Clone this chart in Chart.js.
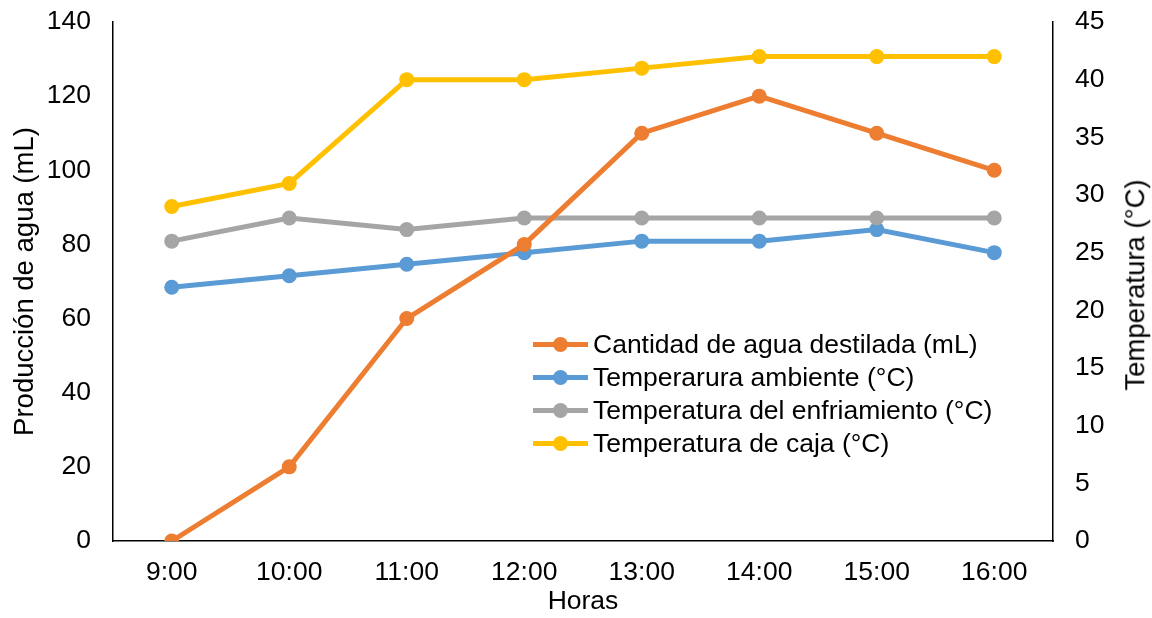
<!DOCTYPE html>
<html>
<head>
<meta charset="utf-8">
<script src="https://cdn.jsdelivr.net/npm/chart.js@4"></script>
<style>
  body { margin: 0; background: #fff; }
  #wrap { position: relative; width: 1152px; height: 618px; }
  #legend {
    position: absolute; left: 533px; top: 328px;
    font-family: "Liberation Sans", Arial, sans-serif; font-size: 26.5px; color: #000;
  }
  .item { height: 33px; line-height: 33px; display: flex; align-items: center; white-space: nowrap; }
  .mark { position: relative; width: 55px; height: 15px; margin-right: 5px; }
  .mark .ln { position: absolute; left: 0; right: 0; top: 5px; height: 5px; }
  .mark .dot { position: absolute; left: 20px; top: 0; width: 15px; height: 15px; border-radius: 50%; }
  #rtitle {
    position: absolute; left: 1134.5px; top: 285px;
    font-family: "Liberation Sans", Arial, sans-serif; font-size: 27.5px; line-height: 1; color: #000;
    white-space: nowrap; transform: translate(-50%, -50%) rotate(-90deg);
  }
</style>
</head>
<body>
<div id="wrap">
  <canvas id="chart" width="1152" height="618"></canvas>
  <div id="legend"></div>
  <div id="rtitle">Temperatura (°C)</div>
</div>
<script>
// datos
const horas = ["9:00", "10:00", "11:00", "12:00", "13:00", "14:00", "15:00", "16:00"];
const aguaDestilada = [0, 20, 60, 80, 110, 120, 110, 100];
const tempAmbiente = [22, 23, 24, 25, 26, 26, 27, 25];
const tempEnfriamiento = [26, 28, 27, 28, 28, 28, 28, 28];
const tempCaja = [29, 31, 40, 40, 41, 42, 42, 42];

const font = "'Liberation Sans', Arial, sans-serif";

function serie(label, data, color, axis) {
  return {
    label: label,
    data: data,
    yAxisID: axis,
    borderColor: color,
    backgroundColor: color,
    borderWidth: 5,
    pointRadius: 7.5,
    pointHoverRadius: 7.5,
    pointBorderWidth: 0,
    tension: 0
  };
}

const datasets = [
  serie("Cantidad de agua destilada (mL)", aguaDestilada, "#ED7D31", "y"),
  serie("Temperarura ambiente (°C)", tempAmbiente, "#5B9BD5", "y2"),
  serie("Temperatura del enfriamiento (°C)", tempEnfriamiento, "#A5A5A5", "y2"),
  serie("Temperatura de caja (°C)", tempCaja, "#FFC000", "y2")
];

// orden de dibujo: la naranja queda encima
datasets[0].order = 0;
datasets[1].order = 3;
datasets[2].order = 2;
datasets[3].order = 1;

const tickFont = { family: font, size: 26.5 };

// fija el tamaño de los ejes para que el area coincida
function fijarAncho(w) {
  return function (s) {
    s.width = w;
    s.paddingTop = 0;
    s.paddingBottom = 0;
  };
}

new Chart(document.getElementById("chart"), {
  type: "line",
  data: { labels: horas, datasets: datasets },
  options: {
    responsive: false,
    animation: false,
    layout: { padding: { top: 22, left: 0, right: 0, bottom: 0 } },
    plugins: { legend: { display: false }, tooltip: { enabled: false } },
    scales: {
      x: {
        offset: true,
        grid: { display: false, drawTicks: false },
        border: { color: "#000", width: 1.5 },
        ticks: { color: "#000", font: tickFont, padding: 16, maxRotation: 0 },
        title: { display: true, text: "Horas", color: "#000", font: tickFont, padding: { top: 0, bottom: 0 } },
        afterFit: function (s) { s.height = 77; }
      },
      y: {
        position: "left",
        min: 0, max: 140,
        grid: { display: false, drawTicks: false },
        border: { color: "#000", width: 1.5 },
        ticks: { stepSize: 20, color: "#000", font: tickFont, padding: 22 },
        title: { display: true, text: "Producción de agua (mL)", color: "#000", font: { family: font, size: 27.5 }, padding: { top: 9, bottom: 0 } },
        afterFit: fijarAncho(113)
      },
      y2: {
        position: "right",
        min: 0, max: 45,
        grid: { display: false, drawTicks: false },
        border: { color: "#000", width: 1.5 },
        ticks: { stepSize: 5, color: "#000", font: tickFont, padding: 22 },
        title: { display: false },
        afterFit: fijarAncho(99)
      }
    }
  }
});

// leyenda dentro del area
const legend = document.getElementById("legend");
datasets.forEach(function (d) {
  const row = document.createElement("div");
  row.className = "item";
  row.innerHTML = '<span class="mark"><span class="ln" style="background:' + d.borderColor +
    '"></span><span class="dot" style="background:' + d.borderColor + '"></span></span>' +
    '<span>' + d.label + '</span>';
  legend.appendChild(row);
});
</script>
</body>
</html>
